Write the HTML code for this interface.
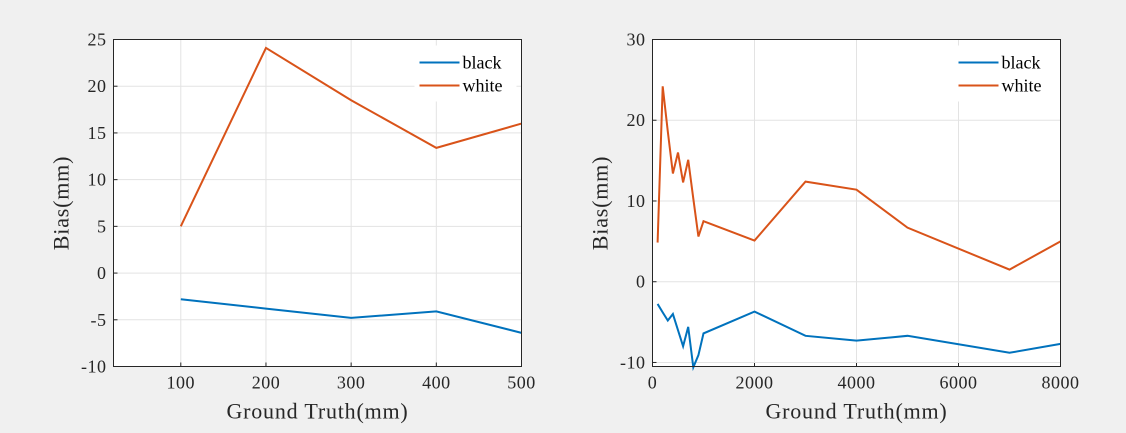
<!DOCTYPE html>
<html><head><meta charset="utf-8"><style>
body{margin:0;background:#f0f0f0;}
svg{display:block;font-family:"Liberation Serif",serif;}
</style></head><body>
<svg id="chart" width="1126" height="433"></svg>
<script>
const leftX=[100,200,300,400,500];
const leftWhite=[5,24.1,18.5,13.4,16];
const leftBlack=[-2.8,-3.8,-4.8,-4.1,-6.4];
const rightX=[100,200,300,400,500,600,700,800,900,1000,2000,3000,4000,5000,7000,8000];
const rightWhite=[4.85,24.2,18.6,13.4,16,12.3,15.1,10.3,5.6,7.5,5.1,12.4,11.4,6.7,1.5,5.0];
const rightBlack=[-2.75,-3.8,-4.8,-4.0,-6.0,-8.0,-5.6,-10.6,-9.1,-6.4,-3.7,-6.7,-7.3,-6.7,-8.8,-7.7];
const leftXTicks=[100,200,300,400,500];
const leftYTicks=[-10,-5,0,5,10,15,20,25];
const rightXTicks=[0,2000,4000,6000,8000];
const rightYTicks=[-10,0,10,20,30];
const NS="http://www.w3.org/2000/svg";
const svg=document.getElementById('chart');
function mk(tag,attrs,parent){const e=document.createElementNS(NS,tag);for(const k in attrs)e.setAttribute(k,attrs[k]);(parent||svg).appendChild(e);return e;}
function panel(name,box,xd,yd,xt,yt,xs,series){
  const g=mk('g',{});
  
  
  const sx=v=>box.x+(v-xd[0])/(xd[1]-xd[0])*box.w;
  const sy=v=>box.y+box.h-(v-yd[0])/(yd[1]-yd[0])*box.h;
  mk('rect',{x:box.x,y:box.y,width:box.w,height:box.h,fill:'#fff'},g);
  xt.forEach(t=>{const l=mk('line',{x1:sx(t),x2:sx(t),y1:box.y,y2:box.y+box.h,stroke:'#e3e3e3'},g);
    
    mk('line',{x1:sx(t),x2:sx(t),y1:box.y+box.h,y2:box.y+box.h-4,stroke:'#262626'},g);
    const tx=mk('text',{x:sx(t),y:box.y+box.h+22,'text-anchor':'middle','font-size':18,fill:'#262626','letter-spacing':0.5},g);tx.textContent=t;
    });
  yt.forEach(t=>{const l=mk('line',{x1:box.x,x2:box.x+box.w,y1:sy(t),y2:sy(t),stroke:'#e3e3e3'},g);
    
    mk('line',{x1:box.x,x2:box.x+4,y1:sy(t),y2:sy(t),stroke:'#262626'},g);
    const tx=mk('text',{x:box.x-7,y:sy(t)+6,'text-anchor':'end','font-size':18,fill:'#262626','letter-spacing':0.5},g);tx.textContent=t;
    });
  series.forEach(s=>{const p=mk('polyline',{points:xs.map((x,i)=>sx(x)+','+sy(s.v[i])).join(' '),fill:'none',stroke:s.c,'stroke-width':2},g);
    });
  const lg=mk('g',{},g);
  
  mk('rect',{x:box.x+box.w-107,y:box.y+6,width:102,height:56,fill:'#fff'},lg);
  series.forEach((s,i)=>{const yy=box.y+23+i*23;
    mk('line',{x1:box.x+box.w-102,x2:box.x+box.w-62,y1:yy,y2:yy,stroke:s.c,'stroke-width':2},lg);
    const tx=mk('text',{x:box.x+box.w-59,y:yy+6,'font-size':18,fill:'#000'},lg);tx.textContent=s.n;
    });
  mk('rect',{x:box.x,y:box.y,width:box.w,height:box.h,fill:'none',stroke:'#262626','stroke-width':1},g);
  const xl=mk('text',{x:box.x+box.w/2,y:box.y+box.h+52,'text-anchor':'middle','font-size':22,fill:'#262626','letter-spacing':0.8},g);xl.textContent='Ground Truth(mm)';
  
  const yl=mk('text',{x:0,y:0,'text-anchor':'middle','font-size':22,fill:'#262626','letter-spacing':0.8,transform:`translate(${box.x-45},${box.y+box.h/2}) rotate(-90)`},g);yl.textContent='Bias(mm)';
  
}
panel('left-chart',{x:113.5,y:39.5,w:408,h:327},[21,500],[-10,25],leftXTicks,leftYTicks,leftX,
 [{n:'black',c:'#0072bd',v:leftBlack},{n:'white',c:'#d95319',v:leftWhite}]);
panel('right-chart',{x:652.5,y:39.5,w:408,h:327},[0,8000],[-10.5,30],rightXTicks,rightYTicks,rightX,
 [{n:'black',c:'#0072bd',v:rightBlack},{n:'white',c:'#d95319',v:rightWhite}]);
</script>
</body></html>
